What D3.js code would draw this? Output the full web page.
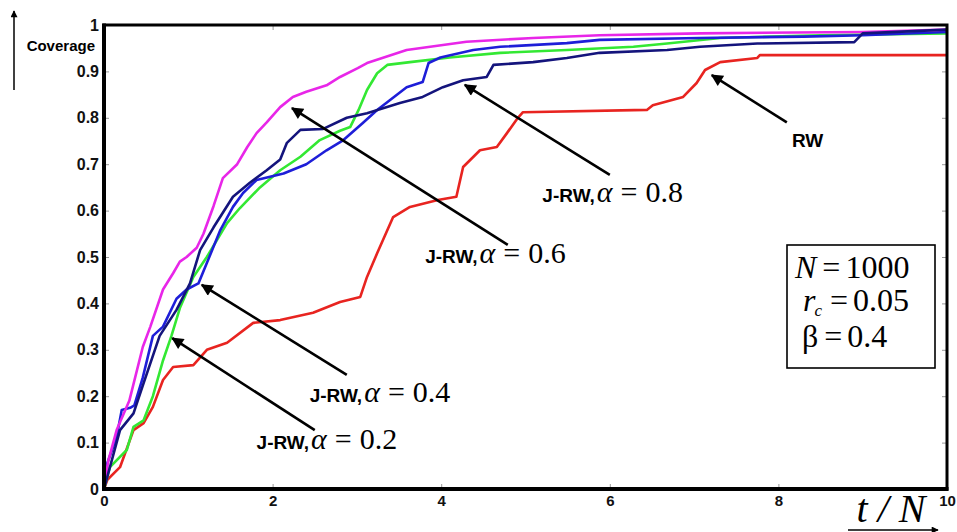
<!DOCTYPE html>
<html>
<head>
<meta charset="utf-8">
<script src="https://cdn.jsdelivr.net/npm/d3@7"></script>
<style>
  body { margin: 0; background: #fff; }
  svg { display: block; }
</style>
</head>
<body>
<div id="chart"></div>
<script>
// #region Data
const seriesNames = ['RW', 'J-RW 0.2', 'J-RW 0.4', 'J-RW 0.6', 'J-RW 0.8'];
const seriesColors = ['#e82420', '#33e833', '#1e1ed8', '#e826e8', '#14147c'];

const tRW = [0, 0.04, 0.19, 0.35, 0.47, 0.58, 0.70, 0.82, 1.06, 1.22, 1.46, 1.77, 2.09, 2.48, 2.80, 3.04, 3.12, 3.24, 3.43, 3.63, 3.96, 4.18, 4.26, 4.46, 4.66, 4.78, 4.91, 4.97, 6.44, 6.51, 6.87, 7.03, 7.13, 7.31, 7.75, 7.78, 10];
const covRW = [0, 0.02, 0.047, 0.127, 0.142, 0.177, 0.235, 0.263, 0.267, 0.30, 0.315, 0.358, 0.364, 0.38, 0.403, 0.414, 0.457, 0.508, 0.586, 0.608, 0.623, 0.63, 0.694, 0.73, 0.737, 0.767, 0.80, 0.812, 0.817, 0.827, 0.845, 0.875, 0.903, 0.92, 0.929, 0.935, 0.935];

const tA2 = [0, 0.07, 0.27, 0.35, 0.47, 0.58, 0.70, 0.80, 0.90, 1.06, 1.22, 1.46, 1.61, 1.85, 2.09, 2.33, 2.56, 2.80, 2.92, 3.02, 3.12, 3.24, 3.36, 3.63, 4.1, 4.7, 5.49, 6.28, 6.68, 7.31, 8.5, 10];
const covA2 = [0, 0.047, 0.084, 0.134, 0.148, 0.2, 0.277, 0.33, 0.39, 0.457, 0.50, 0.573, 0.605, 0.65, 0.687, 0.716, 0.752, 0.772, 0.78, 0.817, 0.86, 0.896, 0.914, 0.92, 0.93, 0.94, 0.946, 0.953, 0.96, 0.972, 0.978, 0.982];

const tA4 = [0, 0.04, 0.15, 0.21, 0.31, 0.36, 0.46, 0.58, 0.70, 0.86, 0.98, 1.12, 1.22, 1.38, 1.53, 1.65, 1.81, 2.13, 2.40, 2.64, 2.84, 3.07, 3.24, 3.39, 3.59, 3.78, 3.85, 3.99, 4.38, 4.7, 5.49, 5.88, 7.07, 8.3, 9.0, 10];
const covA4 = [0, 0.056, 0.112, 0.17, 0.175, 0.18, 0.24, 0.33, 0.35, 0.41, 0.43, 0.443, 0.487, 0.558, 0.608, 0.638, 0.666, 0.68, 0.70, 0.73, 0.752, 0.789, 0.817, 0.838, 0.866, 0.877, 0.918, 0.93, 0.946, 0.953, 0.961, 0.968, 0.972, 0.975, 0.978, 0.985];

const tA6 = [0, 0.05, 0.15, 0.30, 0.46, 0.55, 0.70, 0.82, 0.90, 0.98, 1.10, 1.18, 1.30, 1.41, 1.58, 1.70, 1.81, 1.93, 2.09, 2.24, 2.40, 2.64, 2.80, 3.01, 3.12, 3.59, 4.3, 5.09, 5.88, 7.07, 9.0, 10];
const covA6 = [0, 0.06, 0.127, 0.19, 0.306, 0.35, 0.43, 0.465, 0.49, 0.50, 0.52, 0.55, 0.61, 0.67, 0.70, 0.737, 0.767, 0.79, 0.823, 0.845, 0.856, 0.87, 0.888, 0.907, 0.918, 0.946, 0.964, 0.972, 0.978, 0.982, 0.985, 0.99];

const tA8 = [0, 0.19, 0.35, 0.47, 0.66, 0.86, 1.02, 1.14, 1.30, 1.53, 1.73, 1.93, 2.09, 2.17, 2.33, 2.60, 2.88, 3.12, 3.51, 3.78, 4.02, 4.26, 4.54, 4.62, 5.09, 5.49, 5.88, 6.68, 7.07, 7.75, 8.9, 9.0, 10];
const covA8 = [0, 0.127, 0.163, 0.228, 0.33, 0.386, 0.443, 0.515, 0.564, 0.63, 0.66, 0.687, 0.71, 0.746, 0.774, 0.776, 0.80, 0.81, 0.832, 0.845, 0.866, 0.881, 0.888, 0.914, 0.92, 0.929, 0.94, 0.946, 0.953, 0.96, 0.963, 0.982, 0.99];

const seriesT = [tRW, tA2, tA4, tA6, tA8];
const seriesCov = [covRW, covA2, covA4, covA6, covA8];

const xTicks = [0, 2, 4, 6, 8, 10];
const yTicks = [0, 0.1, 0.2, 0.3, 0.4, 0.5, 0.6, 0.7, 0.8, 0.9, 1];
const alphaLabels = ['0.2', '0.4', '0.6', '0.8'];
const paramNames = ['N', 'r', 'β'];
const paramValues = ['1000', '0.05', '0.4'];
// #endregion

// #region SVG setup
const width = 957;
const height = 532;
const plot = { left: 104, right: 947, top: 25, bottom: 489 };

const svg = d3.select('#chart').append('svg')
  .attr('width', width)
  .attr('height', height);

svg.append('rect').attr('width', width).attr('height', height).attr('fill', '#fff');

const defs = svg.append('defs');
const addMarker = (id, w, h) => {
  defs.append('marker')
    .attr('id', id)
    .attr('viewBox', '0 0 10 10')
    .attr('refX', 9)
    .attr('refY', 5)
    .attr('markerUnits', 'userSpaceOnUse')
    .attr('markerWidth', w)
    .attr('markerHeight', h)
    .attr('orient', 'auto')
    .append('path')
    .attr('d', 'M0,0 L10,5 L0,10 z')
    .attr('fill', '#000');
};
addMarker('head', 16, 12);
addMarker('smallhead', 10, 7);

const x = d3.scaleLinear().domain([0, 10]).range([plot.left, plot.right]);
const y = d3.scaleLinear().domain([0, 1]).range([plot.bottom, plot.top]);
// #endregion

// #region Ticks and labels
const tickColor = '#999';
const labelFont = '"Liberation Sans", Arial, sans-serif';
const serif = '"Liberation Serif", "Times New Roman", serif';

const yLabel = d => (d === 0 || d === 1 ? String(d) : d.toFixed(1));

const left = svg.append('g').attr('transform', `translate(${plot.left},0)`)
  .call(d3.axisLeft(y).tickValues(yTicks).tickSize(-5).tickPadding(5).tickFormat(yLabel));
const bottom = svg.append('g').attr('transform', `translate(0,${plot.bottom})`)
  .call(d3.axisBottom(x).tickValues(xTicks).tickSize(-5).tickPadding(4).tickFormat(d3.format('d')));
svg.append('g').attr('transform', `translate(0,${plot.top})`)
  .call(d3.axisTop(x).tickValues(xTicks).tickSize(-5).tickFormat(''));
svg.append('g').attr('transform', `translate(${plot.right},0)`)
  .call(d3.axisRight(y).tickValues(yTicks).tickSize(-5).tickFormat(''));

svg.selectAll('.domain').remove();
svg.selectAll('.tick line').attr('stroke', tickColor).attr('stroke-width', 1);
svg.selectAll('.tick text')
  .attr('fill', '#111')
  .attr('font-family', labelFont)
  .attr('font-weight', 'bold')
  .attr('font-size', 15);
left.selectAll('.tick text').attr('font-size', 16);
bottom.selectAll('.tick text').attr('dy', '0.85em');
// #endregion

// #region Curves
const line = d3.line()
  .x(d => x(d[0]))
  .y(d => y(d[1]));

const curves = svg.append('g')
  .attr('fill', 'none')
  .attr('stroke-width', 2.6)
  .attr('stroke-linejoin', 'round');

seriesNames.forEach((name, i) => {
  curves.append('path')
    .datum(d3.zip(seriesT[i], seriesCov[i]))
    .attr('class', 'curve')
    .attr('stroke', seriesColors[i])
    .attr('d', line);
});
// #endregion

// #region Frame
svg.append('rect')
  .attr('x', plot.left)
  .attr('y', plot.top)
  .attr('width', plot.right - plot.left)
  .attr('height', plot.bottom - plot.top)
  .attr('fill', 'none')
  .attr('stroke', '#000')
  .attr('stroke-width', 3);
svg.append('path')
  .attr('d', `M${plot.left},${plot.top - 1.5}V${plot.bottom}H${plot.right + 1.5}`)
  .attr('fill', 'none')
  .attr('stroke', '#000')
  .attr('stroke-width', 4);
// #endregion

// #region Axis titles
svg.append('text')
  .text('Coverage')
  .attr('x', 95)
  .attr('y', 51)
  .attr('text-anchor', 'end')
  .attr('font-family', labelFont)
  .attr('font-weight', 'bold')
  .attr('font-size', 15);
svg.append('line')
  .attr('x1', 14).attr('y1', 90)
  .attr('x2', 14).attr('y2', 11)
  .attr('stroke', '#000')
  .attr('stroke-width', 1.5)
  .attr('marker-end', 'url(#smallhead)');

svg.append('text')
  .text('t / N')
  .attr('x', 891)
  .attr('y', 522)
  .attr('text-anchor', 'middle')
  .attr('font-family', serif)
  .attr('font-style', 'italic')
  .attr('font-size', 40);
svg.append('line')
  .attr('x1', 848).attr('y1', 530)
  .attr('x2', 938).attr('y2', 530)
  .attr('stroke', '#000')
  .attr('stroke-width', 1.5)
  .attr('marker-end', 'url(#smallhead)');
// #endregion

// #region Annotations
// [head t, head c, tail t, tail c, text t, text c] for each alpha label
const arrowPos = [
  [0.81, 0.325, 2.50, 0.127, 1.81, 0.086],
  [1.16, 0.44, 2.88, 0.246, 2.44, 0.1875],
  [2.23, 0.821, 4.79, 0.526, 3.81, 0.487],
  [4.28, 0.871, 6.0, 0.677, 5.20, 0.619],
];

const arrows = svg.append('g');
alphaLabels.forEach((a, i) => {
  const p = arrowPos[i];
  arrows.append('line')
    .attr('x1', x(p[2])).attr('y1', y(p[3]))
    .attr('x2', x(p[0])).attr('y2', y(p[1]))
    .attr('stroke', '#000')
    .attr('stroke-width', 2.6)
    .attr('marker-end', 'url(#head)');
  const t = arrows.append('text')
    .attr('x', x(p[4]))
    .attr('y', y(p[5]));
  t.append('tspan')
    .text('J-RW,')
    .attr('font-family', labelFont)
    .attr('font-weight', 'bold')
    .attr('font-size', 19);
  t.append('tspan')
    .text('α')
    .attr('dx', 2)
    .attr('font-family', serif)
    .attr('font-style', 'italic')
    .attr('font-size', 30);
  t.append('tspan')
    .text('=')
    .attr('dx', 8)
    .attr('font-family', serif)
    .attr('font-size', 30);
  t.append('tspan')
    .text(a)
    .attr('dx', 8)
    .attr('font-family', serif)
    .attr('font-size', 30);
});

// RW arrow
arrows.append('line')
  .attr('x1', x(8.10)).attr('y1', y(0.79))
  .attr('x2', x(7.21)).attr('y2', y(0.892))
  .attr('stroke', '#000')
  .attr('stroke-width', 2.6)
  .attr('marker-end', 'url(#head)');
arrows.append('text')
  .text(seriesNames[0])
  .attr('x', x(8.16))
  .attr('y', y(0.737))
  .attr('font-family', labelFont)
  .attr('font-weight', 'bold')
  .attr('font-size', 19);
// #endregion

// #region Parameter box
const box = svg.append('g').attr('transform', 'translate(787,245)');
box.append('rect')
  .attr('width', 148)
  .attr('height', 123)
  .attr('fill', '#fff')
  .attr('stroke', '#000')
  .attr('stroke-width', 1.6);

const rows = [33, 66, 102];
const rowX = [8, 16, 15];
paramNames.forEach((n, i) => {
  const t = box.append('text')
    .attr('x', rowX[i])
    .attr('y', rows[i])
    .attr('font-family', serif)
    .attr('font-size', 32);
  t.append('tspan').text(n).attr('font-style', i < 2 ? 'italic' : 'normal');
  if (i === 1) {
    t.append('tspan').text('c')
      .attr('dx', -1)
      .attr('dy', 5)
      .attr('font-style', 'italic')
      .attr('font-size', 17);
    t.append('tspan').text('=').attr('dx', 8).attr('dy', -5);
  } else {
    t.append('tspan').text('=').attr('dx', 6);
  }
  t.append('tspan').text(paramValues[i]).attr('dx', 5);
});
// #endregion
</script>
</body>
</html>
